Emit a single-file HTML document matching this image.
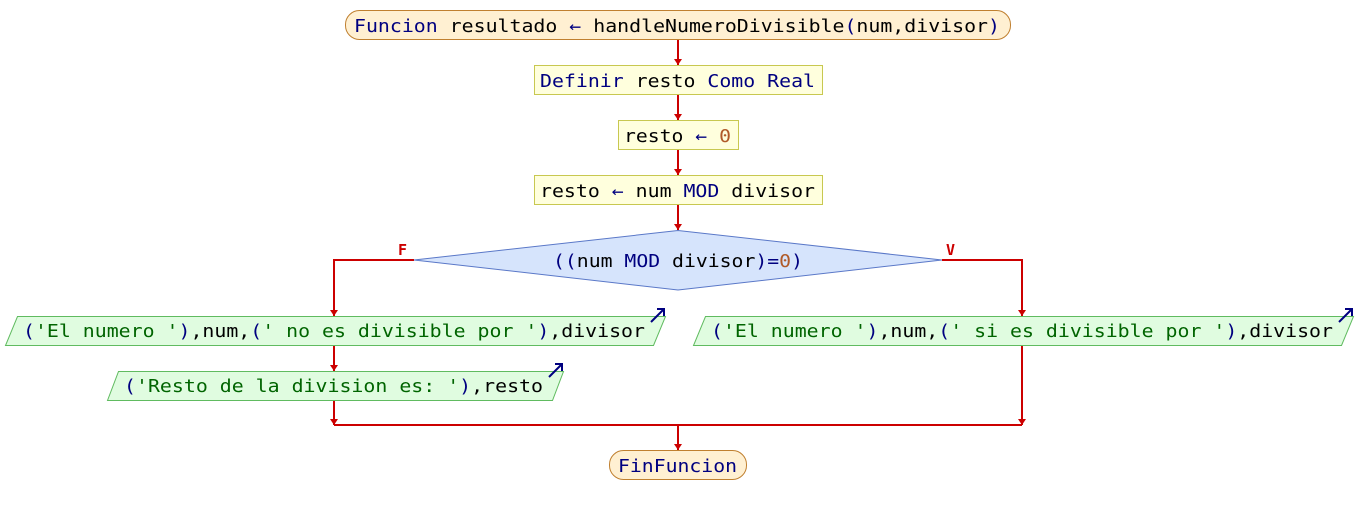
<!DOCTYPE html>
<html><head><meta charset="utf-8"><style>
html,body{margin:0;padding:0;background:#fff;width:1356px;height:515px;overflow:hidden}
svg text{font-family:"DejaVu Sans Mono","Liberation Mono",monospace;font-size:18px}
.k{fill:#000080}.b{fill:#000}.g{fill:#006400}.o{fill:#b05a28}
</style></head><body>
<svg width="1356" height="515" viewBox="0 0 1356 515" xmlns="http://www.w3.org/2000/svg">
<defs>
<marker id="ah" markerWidth="8" markerHeight="8" refX="4" refY="6" orient="auto" markerUnits="userSpaceOnUse">
<path d="M0,0 L8,0 L4,6 Z" fill="#cc0000"/>
</marker>
</defs>
<g stroke="#cc0000" stroke-width="2" fill="none">
<line x1="678" y1="40" x2="678" y2="65"/>
<line x1="678" y1="95" x2="678" y2="120"/>
<line x1="678" y1="150" x2="678" y2="175"/>
<line x1="678" y1="205" x2="678" y2="230"/>
<polyline points="414,260 334,260 334,316"/>
<line x1="334" y1="345" x2="334" y2="371"/>
<line x1="334" y1="400" x2="334" y2="425"/>
<polyline points="942,260 1022,260 1022,316"/>
<line x1="1022" y1="345" x2="1022" y2="425"/>
<line x1="334" y1="425" x2="1022" y2="425"/>
<line x1="678" y1="425" x2="678" y2="450"/>
</g>
<g fill="#cc0000">
<path d="M674,59 L682,59 L678,65 Z"/>
<path d="M674,114 L682,114 L678,120 Z"/>
<path d="M674,169 L682,169 L678,175 Z"/>
<path d="M674,224 L682,224 L678,230 Z"/>
<path d="M330,310 L338,310 L334,316 Z"/>
<path d="M330,365 L338,365 L334,371 Z"/>
<path d="M330,419 L338,419 L334,425 Z"/>
<path d="M1018,310 L1026,310 L1022,316 Z"/>
<path d="M1018,419 L1026,419 L1022,425 Z"/>
<path d="M674,444 L682,444 L678,450 Z"/>
</g>
<!-- shapes -->
<rect x="345.5" y="10.5" width="665" height="29" rx="14" fill="#fff0d2" stroke="#c08030"/>
<rect x="534.5" y="65.5" width="288" height="29" fill="#ffffdd" stroke="#c8c850"/>
<rect x="618.5" y="120.5" width="120" height="29" fill="#ffffdd" stroke="#c8c850"/>
<rect x="534.5" y="175.5" width="288" height="29" fill="#ffffdd" stroke="#c8c850"/>
<polygon points="414,260 678,230.5 942,260 678,290" fill="#d6e4fc" stroke="#5a78c8"/>
<polygon points="17.5,316.5 665.5,316.5 653.5,345.5 5.5,345.5" fill="#e0fce0" stroke="#60bb60"/>
<polygon points="118.5,371.5 563.5,371.5 552.5,400.5 107.5,400.5" fill="#e0fce0" stroke="#60bb60"/>
<polygon points="705.5,316.5 1353.5,316.5 1341.5,345.5 693.5,345.5" fill="#e0fce0" stroke="#60bb60"/>
<rect x="609.5" y="450.5" width="137" height="29" rx="14" fill="#fff0d2" stroke="#c08030"/>
<!-- output arrows -->
<g stroke="#000080" stroke-width="2" fill="none">
<path d="M651,322 L664,309 M657,309 L664,309 L664,316"/>
<path d="M549,377 L562,364 M555,364 L562,364 L562,371"/>
<path d="M1339,322 L1352,309 M1345,309 L1352,309 L1352,316"/>
</g>
<!-- labels -->
<text x="398" y="255" font-weight="bold" fill="#cc0000" style="font-size:15px">F</text>
<text x="946" y="255" font-weight="bold" fill="#cc0000" style="font-size:15px">V</text>
<text x="354" y="32" textLength="646" lengthAdjust="spacingAndGlyphs"><tspan class="k">Funcion</tspan><tspan class="b"> resultado </tspan><tspan class="k">←</tspan><tspan class="b"> handleNumeroDivisible</tspan><tspan class="k">(</tspan><tspan class="b">num,divisor</tspan><tspan class="k">)</tspan></text>
<text x="540" y="87" textLength="275" lengthAdjust="spacingAndGlyphs"><tspan class="k">Definir</tspan><tspan class="b"> resto </tspan><tspan class="k">Como Real</tspan></text>
<text x="624" y="142" textLength="107" lengthAdjust="spacingAndGlyphs"><tspan class="b">resto </tspan><tspan class="k">←</tspan><tspan class="o"> 0</tspan></text>
<text x="540" y="197" textLength="275" lengthAdjust="spacingAndGlyphs"><tspan class="b">resto </tspan><tspan class="k">←</tspan><tspan class="b"> num </tspan><tspan class="k">MOD</tspan><tspan class="b"> divisor</tspan></text>
<text x="553" y="267" textLength="250" lengthAdjust="spacingAndGlyphs"><tspan class="k">((</tspan><tspan class="b">num </tspan><tspan class="k">MOD</tspan><tspan class="b"> divisor</tspan><tspan class="k">)=</tspan><tspan class="o">0</tspan><tspan class="k">)</tspan></text>
<text x="23" y="337" textLength="622" lengthAdjust="spacingAndGlyphs"><tspan class="k">(</tspan><tspan class="g">'El numero '</tspan><tspan class="k">)</tspan><tspan class="b">,num,</tspan><tspan class="k">(</tspan><tspan class="g">' no es divisible por '</tspan><tspan class="k">)</tspan><tspan class="b">,divisor</tspan></text>
<text x="124" y="392" textLength="419" lengthAdjust="spacingAndGlyphs"><tspan class="k">(</tspan><tspan class="g">'Resto de la division es: '</tspan><tspan class="k">)</tspan><tspan class="b">,resto</tspan></text>
<text x="711" y="337" textLength="622" lengthAdjust="spacingAndGlyphs"><tspan class="k">(</tspan><tspan class="g">'El numero '</tspan><tspan class="k">)</tspan><tspan class="b">,num,</tspan><tspan class="k">(</tspan><tspan class="g">' si es divisible por '</tspan><tspan class="k">)</tspan><tspan class="b">,divisor</tspan></text>
<text x="618" y="472" textLength="119" lengthAdjust="spacingAndGlyphs" class="k">FinFuncion</text>
</svg>
</body></html>
